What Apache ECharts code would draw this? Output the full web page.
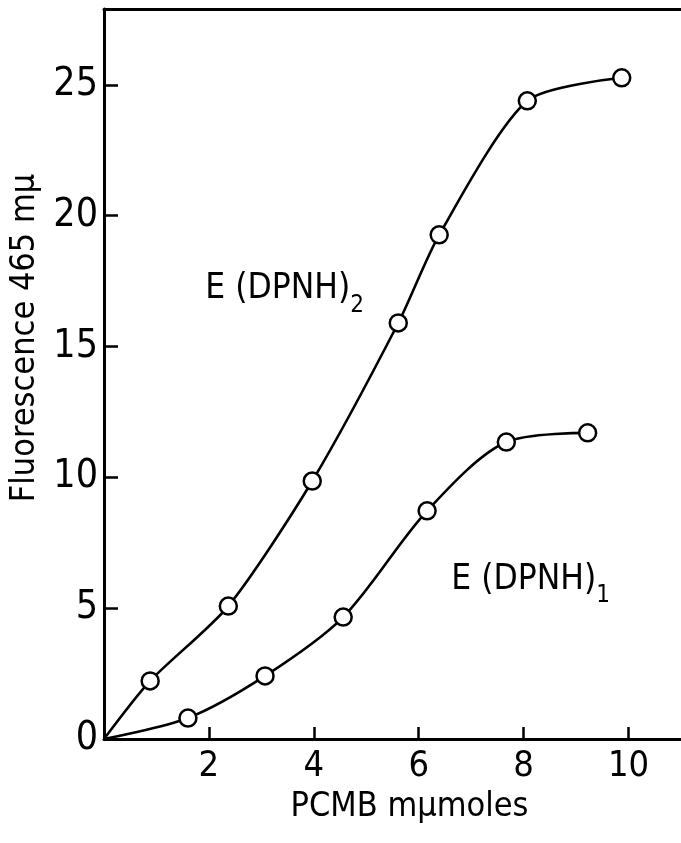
<!doctype html>
<html>
<head>
    <meta charset="utf-8">
    <title>PCMB fluorescence</title>
    <script src="https://cdn.jsdelivr.net/npm/echarts@6/dist/echarts.min.js"></script>
    <style>
        html, body { margin: 0; padding: 0; background: #fff; }
        #main { width: 681px; height: 843px; }
    </style>
</head>
<body>
    <div id="main"></div>
</body>
<script type="text/javascript">
    // 数据
    var e2X = [0, 0.88, 2.37, 3.97, 5.61, 6.39, 8.07, 9.87];
    var e2Y = [0, 2.22, 5.08, 9.86, 15.9, 19.27, 24.39, 25.27];
    var e1X = [0, 1.60, 3.07, 4.56, 6.16, 7.67, 9.22];
    var e1Y = [0, 0.80, 2.41, 4.66, 8.72, 11.35, 11.70];
    var xTicks = [2, 4, 6, 8, 10];
    var yTicks = [0, 5, 10, 15, 20, 25];
    var curveLabels = [
        { main: 'E (DPNH)', sub: '2', x: 1.93, y: 17.1 },
        { main: 'E (DPNH)', sub: '1', x: 6.62, y: 6.0 }
    ];

    var font = "'Liberation Sans Narrow', 'DejaVu Sans Condensed', 'Liberation Sans', sans-serif";

    function toPoints(xs, ys) {
        var pts = [];
        for (var i = 0; i < xs.length; i++) {
            // first point is the origin: the curve starts there, no circle
            if (i == 0) pts.push({ value: [xs[i], ys[i]], symbol: 'none' });
            else pts.push([xs[i], ys[i]]);
        }
        return pts;
    }

    var myChart = echarts.init(document.getElementById('main'));

    var option = {
        animation: false,
        backgroundColor: '#fff',
        grid: { left: 104, right: 0, top: 9, bottom: 104, outerBoundsMode: 'none' },
        xAxis: [{
            type: 'value',
            min: 0,
            max: 11,
            name: 'PCMB mμmoles',
            nameLocation: 'middle',
            nameGap: 33,
            nameTextStyle: { fontFamily: font, fontSize: 34, color: '#000', padding: [0, 0, 0, 34] },
            axisLine: { lineStyle: { color: '#000', width: 3 } },
            axisTick: { inside: true, length: 12, customValues: xTicks, lineStyle: { color: '#000', width: 2.5 } },
            axisLabel: { customValues: xTicks, fontFamily: font, fontSize: 36, color: '#000', margin: 10 },
            splitLine: { show: false }
        }, {
            // top border line
            type: 'value',
            position: 'top',
            min: 0,
            max: 11,
            axisLine: { show: true, lineStyle: { color: '#000', width: 3 } },
            axisTick: { show: false },
            axisLabel: { show: false },
            splitLine: { show: false }
        }],
        yAxis: {
            type: 'value',
            min: 0,
            max: 27.9,
            name: 'Fluorescence 465 mμ',
            nameLocation: 'middle',
            nameGap: 62,
            nameTextStyle: { fontFamily: font, fontSize: 34, color: '#000', padding: [0, 0, 0, 72] },
            axisLine: { show: true, lineStyle: { color: '#000', width: 3 } },
            axisTick: { inside: true, length: 14, customValues: yTicks, lineStyle: { color: '#000', width: 2.5 } },
            axisLabel: { customValues: yTicks, fontFamily: font, fontSize: 39, color: '#000', margin: 6 },
            splitLine: { show: false }
        },
        series: [{
            name: 'E(DPNH)2',
            type: 'line',
            smooth: 0.25,
            symbol: 'circle',
            symbolSize: 17,
            itemStyle: { color: '#fff', borderColor: '#000', borderWidth: 2.5 },
            lineStyle: { color: '#000', width: 2.6 },
            data: toPoints(e2X, e2Y)
        }, {
            name: 'E(DPNH)1',
            type: 'line',
            smooth: 0.3,
            symbol: 'circle',
            symbolSize: 17,
            itemStyle: { color: '#fff', borderColor: '#000', borderWidth: 2.5 },
            lineStyle: { color: '#000', width: 2.6 },
            data: toPoints(e1X, e1Y)
        }]
    };

    myChart.setOption(option);

    // 曲线标签, placed from data coordinates; subscript follows the measured main text
    var ctx = document.createElement('canvas').getContext('2d');
    ctx.font = '35px ' + font;
    var g = [];
    curveLabels.forEach(function (lb) {
        var p = myChart.convertToPixel({ gridIndex: 0 }, [lb.x, lb.y]);
        var w = ctx.measureText(lb.main).width;
        g.push({
            type: 'text', left: p[0], top: p[1] - 20,
            style: { text: lb.main, font: '35px ' + font, fill: '#000' }
        });
        g.push({
            type: 'text', left: p[0] + w, top: p[1] + 2,
            style: { text: lb.sub, font: '24px ' + font, fill: '#000' }
        });
    });
    myChart.setOption({ graphic: g });
</script>
</html>
